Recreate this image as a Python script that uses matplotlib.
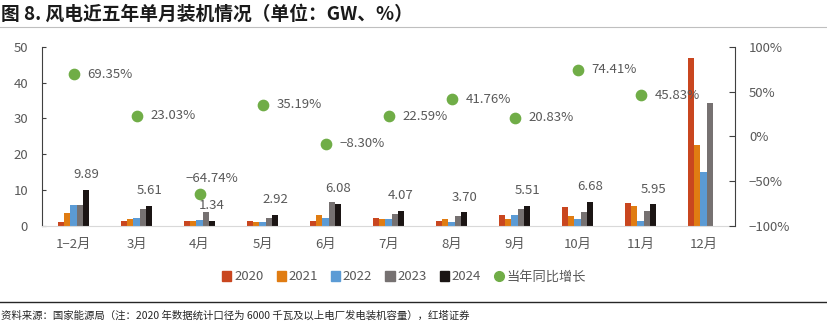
import numpy as np
import matplotlib.pyplot as plt
from matplotlib.lines import Line2D

plt.rcParams['font.family'] = ['Noto Sans CJK SC', 'DejaVu Sans']
plt.rcParams['axes.unicode_minus'] = True

months = ["1−2月", "3月", "4月", "5月", "6月", "7月", "8月", "9月", "10月", "11月", "12月"]
y2020 = [1.0, 1.4, 1.3, 1.4, 1.4, 2.2, 1.4, 3.0, 5.2, 6.3, 47.0]
y2021 = [3.6, 1.8, 1.3, 1.1, 3.0, 1.8, 2.0, 1.9, 2.7, 5.5, 22.7]
y2022 = [5.7, 2.1, 1.7, 1.1, 2.1, 2.0, 1.1, 3.1, 1.8, 1.3, 15.0]
y2023 = [5.84, 4.56, 3.80, 2.16, 6.63, 3.32, 2.61, 4.56, 3.83, 4.08, 34.4]
y2024 = [9.89, 5.61, 1.34, 2.92, 6.08, 4.07, 3.70, 5.51, 6.68, 5.95, np.nan]
yoy = [69.35, 23.03, -64.74, 35.19, -8.30, 22.59, 41.76, 20.83, 74.41, 45.83, np.nan]

series = [("2020", y2020, "#C9461F"), ("2021", y2021, "#E07C12"),
          ("2022", y2022, "#5B9BD5"), ("2023", y2023, "#767171"),
          ("2024", y2024, "#1B1514")]

txt = "#595959"
fig = plt.figure(figsize=(8.28, 3.34), dpi=100)
ax = fig.add_axes([42 / 828, 1 - 225.7 / 334, (735 - 42) / 828, (225.7 - 47) / 334])
ax2 = ax.twinx()

x = np.arange(len(months))
w = 0.1
for i, (name, vals, c) in enumerate(series):
    ax.bar(x + (i - 2) * w, vals, w, color=c, label=name, zorder=2)

# 2024 value labels above the black bars
for xi, v in zip(x, y2024):
    if not np.isnan(v):
        ax.text(xi + 2 * w, v + 4.3, f"{v:.2f}", ha="center", va="center",
                fontsize=9.5, color=txt)

ax2.scatter(x, yoy, s=55, color="#70AD47", zorder=3, label="当年同比增长")
for xi, v in zip(x, yoy):
    if np.isnan(v):
        continue
    s = f"{v:.2f}%".replace("-", "\u2212")
    if v < -50:
        ax2.text(xi + 0.2, v + 18, s, ha="center", va="center", fontsize=9.5, color=txt)
    else:
        ax2.text(xi + 0.22, v, s, ha="left", va="center", fontsize=9.5, color=txt)

ax.set_xlim(-0.5, len(months) - 0.5)
ax.set_ylim(0, 50)
ax2.set_ylim(-100, 100)
ax.set_yticks([0, 10, 20, 30, 40, 50])
ax2.set_yticks([-100, -50, 0, 50, 100])
ax2.set_yticklabels(["\u2212100%", "\u221250%", "0%", "50%", "100%"])
ax.set_xticks(x)
ax.set_xticklabels(months)

for a in (ax, ax2):
    a.spines["top"].set_visible(False)
ax.spines["right"].set_visible(False)
ax2.spines["left"].set_visible(False)
ax2.spines["bottom"].set_visible(False)
ax.spines["left"].set_color("#404040")
ax2.spines["right"].set_color("#404040")
ax.spines["bottom"].set_color("#D9D9D9")
ax.tick_params(axis="y", direction="in", length=3, colors=txt, labelsize=9.5, pad=10,
               color="#404040")
ax.tick_params(axis="x", length=0, colors=txt, labelsize=9.5, pad=9)
ax2.tick_params(axis="y", direction="in", length=4, colors=txt, labelsize=9.5, pad=10,
                color="#404040")

handles = [plt.Rectangle((0, 0), 1, 1, color=c) for _, _, c in series]
labels = [n for n, _, _ in series]
handles.append(Line2D([], [], marker="o", linestyle="none", color="#70AD47", markersize=7))
labels.append("当年同比增长")
fig.legend(handles, labels, loc="center", bbox_to_anchor=(404 / 828, 1 - 277 / 334),
           ncol=6, frameon=False, fontsize=9.5, handlelength=0.7, handleheight=0.7,
           handletextpad=0.2, columnspacing=1.0, labelcolor=txt)

fig.text(1 / 828, 1 - 14 / 334, "图 8. 风电近五年单月装机情况（单位：GW、%）",
         fontsize=13.5, fontweight="bold", va="center", ha="left", color="#1a1a1a")
fig.add_artist(Line2D([0, 1], [1 - 27 / 334, 1 - 27 / 334], color="#BFBFBF", lw=0.8))
fig.add_artist(Line2D([0, 1], [1 - 302 / 334, 1 - 302 / 334], color="#262626", lw=1.0))
fig.text(1 / 828, 1 - 316 / 334,
         "资料来源：国家能源局（注：2020 年数据统计口径为 6000 千瓦及以上电厂发电装机容量），红塔证券",
         fontsize=7.5, va="center", ha="left", color="#262626")

fig.savefig("out.png", dpi=100)
